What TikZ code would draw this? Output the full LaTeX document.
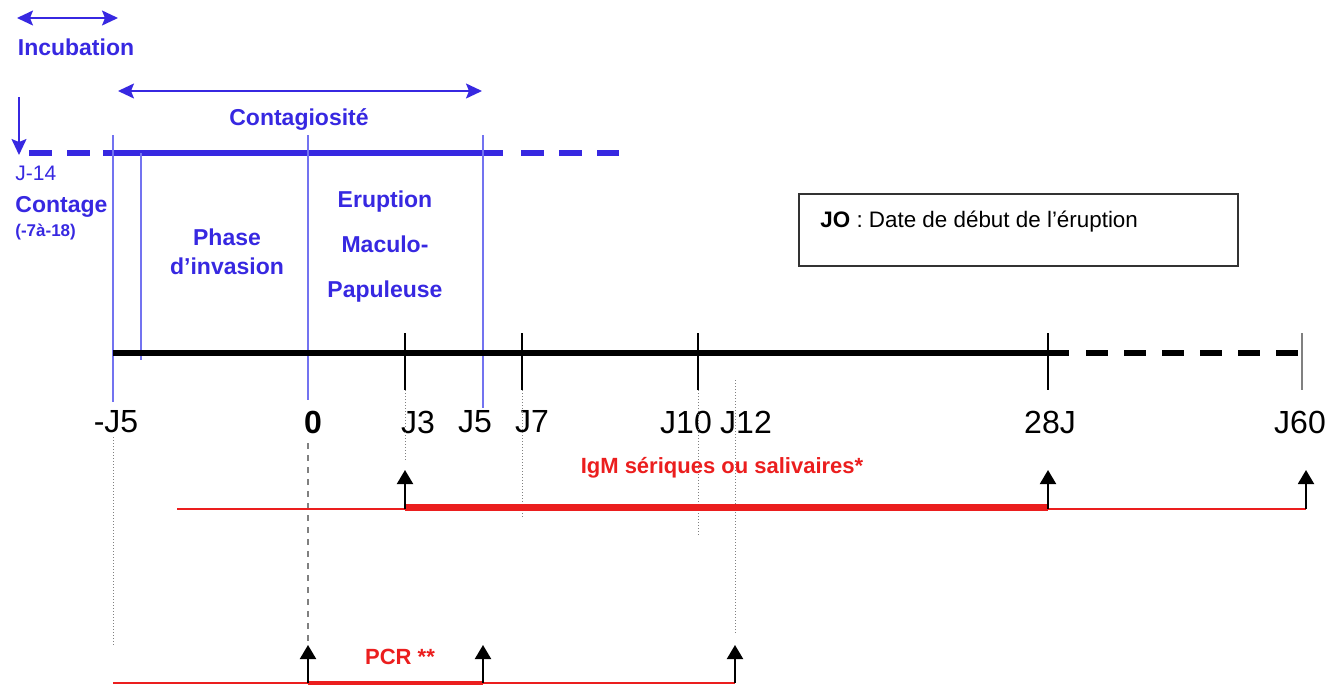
\documentclass[tikz,border=0pt]{standalone}
\usepackage{fontspec}
\setmainfont{Liberation Sans}
\usetikzlibrary{positioning, arrows.meta}
\definecolor{phaseblue}{RGB}{55,40,225}
\definecolor{lineblue}{RGB}{115,115,240}
\definecolor{testred}{RGB}{235,30,30}

\begin{document}
\begin{tikzpicture}[x=0.5pt, y=-0.5pt,
  phase/.style={font=\fontsize{11.5}{14.5}\selectfont\bfseries, text=phaseblue, align=center, inner sep=0pt},
  day/.style={font=\fontsize{16}{18}\selectfont, inner sep=0pt},
  test/.style={font=\fontsize{11}{13}\selectfont\bfseries, text=testred, inner sep=0pt},
  axis/.style={line width=3pt},
  span/.style={{Stealth[length=8pt,width=7.5pt,inset=1.5pt]}-{Stealth[length=8pt,width=7.5pt,inset=1.5pt]}, phaseblue, line width=0.8pt},
  sep/.style={lineblue, line width=0.8pt},
  tick/.style={line width=0.6pt},
  guide/.style={gray, densely dotted, line width=0.5pt},
  onset/.style={-{Triangle[length=7pt,width=8pt]}, line width=1pt},
  dashes/.style={dash pattern=on 11.5pt off 7.5pt},
  legbox/.style={draw=black!80, line width=0.8pt, minimum width=219.5pt, minimum height=36pt, inner sep=0pt}
]
\useasboundingbox (0,0) rectangle (1328,685);

% days on the axis
\coordinate (tm5) at (113,353);
\coordinate (t0) at (308,353);
\coordinate (t3) at (405,353);
\coordinate (t5) at (483,353);
\coordinate (t7) at (522,353);
\coordinate (t10) at (698,353);
\coordinate (t12) at (735,353);
\coordinate (t28) at (1048,353);
\coordinate (t60) at (1302,353);

% phases
\coordinate (incA) at (17,18);
\coordinate (incB) at (118,18);
\coordinate (conA) at (118,91);
\coordinate (conB) at (482,91);
\coordinate (ctgA) at (19,97);
\coordinate (ctgB) at (19,155);
\node[phase] (incub) at (76,47) {Incubation};
\node[phase] (contag) at (299,120) {Contagiosité};
\draw[span] (incA) -- (incB);
\draw[span] (conA) -- (conB);
\draw[-{Stealth[length=8pt,width=7.5pt,inset=1.5pt]}, phaseblue, line width=0.8pt] (ctgA) -- (ctgB);

\coordinate (blA) at (29,153);
\coordinate (blB) at (90,153);
\coordinate (blC) at (103,153);
\coordinate (blD) at (503,153);
\coordinate (blE) at (521,153);
\coordinate (blF) at (619,153);
\draw[phaseblue, line width=3.3pt, dashes] (blA) -- (blB);
\draw[phaseblue, line width=3.3pt] (blC) -- (blD);
\draw[phaseblue, line width=3.3pt, dashes] (blE) -- (blF);

\draw[sep] (tm5 |- 0,135) -- (tm5 |- 0,402);
\draw[sep] (141,153) -- (141,360);
\draw[sep] (t0 |- 0,135) -- (t0 |- 0,400);
\draw[sep] (t5 |- 0,135) -- (t5 |- 0,408);

\node[phase, anchor=west, font=\fontsize{10.5}{12}\selectfont] (j14) at (15,173) {J-14};
\node[phase, anchor=west] (contage) at (15,207) {Contage};
\node[phase, anchor=west, font=\fontsize{8.5}{10}\selectfont\bfseries] (range) at (15,232) {(-7à-18)};
\node[phase] (invasion) at (227,252) {Phase\\d'invasion};
\node[phase, font=\fontsize{11.5}{22.5}\selectfont\bfseries] (eruption) at (385,247) {Eruption\\Maculo-\\Papuleuse};

\node[legbox] (leg) at (1018.5,230) {};
\node[anchor=west, inner sep=0pt, font=\fontsize{11.2}{13}\selectfont] (legtxt) at (820,222) {\textbf{JO} : Date de début de l’éruption};

% main axis
\coordinate (axEnd) at (1069,353);
\coordinate (axDashA) at (1086,353);
\coordinate (axDashB) at (1298,353);
\draw[axis] (tm5) -- (axEnd);
\draw[axis, dash pattern=on 11pt off 8pt] (axDashA) -- (axDashB);
\foreach \t in {t3, t7, t10, t28}
  \draw[tick] (\t |- 0,333) -- (\t |- 0,390);
\draw[tick, gray] (t60 |- 0,333) -- (t60 |- 0,390);

\node[day] (lm5) at (116,422) {-J5};
\node[day, font=\fontsize{16}{18}\selectfont\bfseries] (l0) at (313,422) {0};
\node[day] (l3) at (418,422) {J3};
\node[day] (l5) at (475,422) {J5};
\node[day] (l7) at (532,422) {J7};
\node[day] (l10) at (686,422) {J10};
\node[day] (l12) at (746,422) {J12};
\node[day] (l28) at (1050,422) {28J};
\node[day] (l60) at (1300,422) {J60};

% guides
\draw[guide] (tm5 |- 0,437) -- (tm5 |- 0,645);
\draw[gray, dashed, line width=0.8pt] (t0 |- 0,443) -- (t0 |- 0,643);
\draw[guide] (t3 |- 0,390) -- (t3 |- 0,460);
\draw[guide] (t7 |- 0,390) -- (t7 |- 0,518);
\draw[guide] (t10 |- 0,390) -- (t10 |- 0,537);
\draw[guide] (t12 |- 0,380) -- (t12 |- 0,633);

% serology
\coordinate (igmL) at (177,509);
\coordinate (igmR) at (1306,509);
\node[test] (igm) at (722,468) {IgM sériques ou salivaires*};
\draw[testred, line width=0.7pt] (igmL) -- (igmR);
\draw[testred, line width=3.5pt] (t3 |- 0,507) -- (t28 |- 0,507);
\draw[onset] (t3 |- igmL) -- (t3 |- 0,470);
\draw[onset] (t28 |- igmL) -- (t28 |- 0,470);
\draw[onset] (igmR) -- (1306,470);

% PCR
\coordinate (pcrL) at (113,683);
\coordinate (pcrR) at (735,683);
\node[test] (pcr) at (400,657) {PCR **};
\draw[testred, line width=0.7pt] (pcrL) -- (pcrR);
\draw[testred, line width=3.5pt] (t0 |- 0,684) -- (t5 |- 0,684);
\draw[onset] (t0 |- pcrL) -- (t0 |- 0,645);
\draw[onset] (t5 |- pcrL) -- (t5 |- 0,645);
\draw[onset] (pcrR) -- (t12 |- 0,645);
\end{tikzpicture}
\end{document}
